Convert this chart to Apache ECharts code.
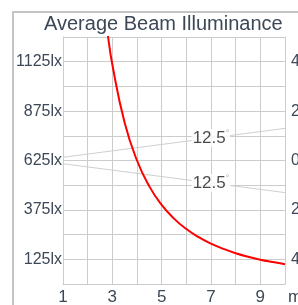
<!DOCTYPE html>
<html>
<head>
<meta charset="utf-8">
<script src="https://cdn.jsdelivr.net/npm/echarts@6/dist/echarts.min.js"></script>
<style>
html,body{margin:0;padding:0;background:#fff;}
#chart{width:298px;height:305px;}
</style>
</head>
<body>
<div id="chart"></div>
<script>
// Illuminance curve (distance in m, illuminance in lx)
const distances = [2.7, 2.8, 3, 3.5, 4, 4.5, 5, 5.5, 6, 6.5, 7, 7.5, 8, 8.5, 9, 9.5, 10];
const illuminance = [1372, 1276, 1111, 816, 625, 494, 400, 331, 278, 237, 204, 178, 156, 138, 123, 111, 100];
// Beam edges (distance, half-width in m on right axis)
const beamX = [1, 10];
const beamUpper = [0.13, 1.3];
const beamLower = [-0.13, -1.3];
// Beam angle labels
const angleLabel = '12.5';
const angleLabelX = 7;
const angleLabelUpper = 0.91;
const angleLabelLower = -0.91;
// Tick labels
const xTickLabels = [1, 3, 5, 7, 9];
const yTickLabels = [125, 375, 625, 875, 1125];
const rightTickLabels = [-4, -2, 0, 2, 4];
const titleText = 'Average Beam Illuminance';
const xUnit = 'm';
const xUnitAt = 10;

const textColor = '#3d4857';
const gridColor = '#cccccc';

const chart = echarts.init(document.getElementById('chart'));
const labelStyle = {
  show: true,
  position: 'inside',
  formatter: '{a|' + angleLabel + '}{b|°}',
  backgroundColor: '#fff',
  padding: [0, 1],
  rich: {
    a: {fontSize: 17, color: '#1a1a1a', fontFamily: 'Liberation Sans', lineHeight: 18},
    b: {fontSize: 9, color: '#999', fontFamily: 'Liberation Sans', verticalAlign: 'top', lineHeight: 18}
  }
};
chart.setOption({
  animation: false,
  backgroundColor: '#fff',
  title: {
    text: titleText,
    left: 39,
    top: 9,
    textStyle: {fontSize: 20, fontWeight: 'normal', color: textColor, fontFamily: 'Liberation Sans'}
  },
  graphic: [{
    type: 'rect',
    shape: {x: 13, y: 12, width: 400, height: 400},
    style: {fill: 'none', stroke: '#c4c4c4', lineWidth: 2},
    z: -10
  }],
  grid: {left: 63, top: 37, right: 13, bottom: 21, outerBoundsMode: 'none'},
  xAxis: {
    type: 'value', min: 1, max: 10, interval: 1,
    axisLine: {lineStyle: {color: gridColor}},
    axisTick: {show: false},
    splitLine: {lineStyle: {color: gridColor}},
    axisLabel: {
      fontSize: 17, color: textColor, fontFamily: 'Liberation Sans', margin: 5,
      showMaxLabel: true,
      formatter: v => v === xUnitAt ? '{m|' + xUnit + '}' : (xTickLabels.includes(v) ? String(v) : ''),
      rich: {m: {fontSize: 17, color: textColor, fontFamily: 'Liberation Sans', padding: [0, 0, 0, 20]}}
    }
  },
  yAxis: [{
    type: 'value', min: 0, max: 1250, interval: 125,
    axisLine: {show: true, lineStyle: {color: gridColor}},
    axisTick: {show: false},
    splitLine: {lineStyle: {color: gridColor}},
    axisLabel: {
      fontSize: 16, color: textColor, fontFamily: 'Liberation Sans', margin: 1,
      formatter: v => yTickLabels.includes(v) ? v + 'lx' : ''
    }
  }, {
    type: 'value', min: -5, max: 5, interval: 1, position: 'right',
    axisLine: {show: true, lineStyle: {color: gridColor}},
    axisTick: {show: false},
    splitLine: {show: false},
    axisLabel: {
      fontSize: 16, color: textColor, fontFamily: 'Liberation Sans', margin: 6,
      formatter: v => rightTickLabels.includes(v) ? String(Math.abs(v)) : ''
    }
  }],
  series: [{
    type: 'line', yAxisIndex: 1, symbol: 'none', silent: true,
    lineStyle: {color: '#cfcfcf', width: 1},
    data: beamX.map((x, i) => [x, beamUpper[i]])
  }, {
    type: 'line', yAxisIndex: 1, symbol: 'none', silent: true,
    lineStyle: {color: '#cfcfcf', width: 1},
    data: beamX.map((x, i) => [x, beamLower[i]])
  }, {
    type: 'line', yAxisIndex: 0, symbol: 'none', smooth: true, clip: true,
    lineStyle: {color: '#ff0000', width: 2},
    data: distances.map((d, i) => [d, illuminance[i]]),
    z: 5
  }, {
    type: 'scatter', yAxisIndex: 1, symbolSize: 0, silent: true,
    label: labelStyle,
    data: [[angleLabelX, angleLabelUpper], [angleLabelX, angleLabelLower]],
    z: 10
  }]
});
</script>
</body>
</html>
